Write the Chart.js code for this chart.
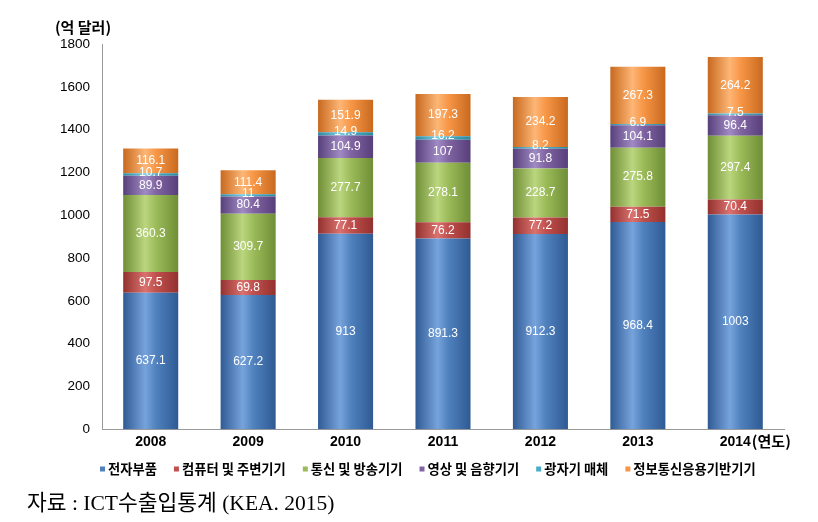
<!DOCTYPE html>
<html>
<head>
<meta charset="utf-8">
<script src="https://cdn.jsdelivr.net/npm/chart.js@4"></script>
<style>
  body { margin: 0; background: #fff; }
  #wrap { position: relative; width: 818px; height: 522px; }
  #note { position: absolute; left: 27px; top: 485px; font-family: "Liberation Serif", "Noto Sans CJK KR", serif; font-size: 21.5px; color: #000; }
</style>
</head>
<body>
<div id="wrap">
  <canvas id="barChart" width="818" height="522"></canvas>
  <div id="note">자료 : ICT수출입통계 (KEA. 2015)</div>
</div>
<script>
const years = ['2008', '2009', '2010', '2011', '2012', '2013', '2014'];
const seriesNames = ['전자부품', '컴퓨터 및 주변기기', '통신 및 방송기기', '영상 및 음향기기', '광자기 매체', '정보통신응용기반기기'];
const parts = [637.1, 627.2, 913, 891.3, 912.3, 968.4, 1003];
const computers = [97.5, 69.8, 77.1, 76.2, 77.2, 71.5, 70.4];
const telecom = [360.3, 309.7, 277.7, 278.1, 228.7, 275.8, 297.4];
const video = [89.9, 80.4, 104.9, 107, 91.8, 104.1, 96.4];
const media = [10.7, 11, 14.9, 16.2, 8.2, 6.9, 7.5];
const appliances = [116.1, 111.4, 151.9, 197.3, 234.2, 267.3, 264.2];
const yTicks = [0, 200, 400, 600, 800, 1000, 1200, 1400, 1600, 1800];

const colors = ['#4F81BD', '#C0504D', '#9BBB59', '#8064A2', '#4BACC6', '#F79646'];
const darks = ['#2F5A94', '#93312E', '#6F8E36', '#573F7A', '#2D889F', '#C8691F'];
const lights = ['#77A3DC', '#DA726F', '#BAD67E', '#A08AC4', '#7ACDE2', '#FDB676'];

const tickFont = { family: '"Liberation Sans", Arial, sans-serif', size: 14, weight: 'bold' };

// cylinder look: horizontal gradient per bar
const cylinder = {
    id: 'cylinder',
    beforeDatasetsDraw(chart) {
        const ctx = chart.ctx;
        chart.data.datasets.forEach(function(ds, di) {
            chart.getDatasetMeta(di).data.forEach(function(bar) {
                const g = ctx.createLinearGradient(bar.x - bar.width / 2, 0, bar.x + bar.width / 2, 0);
                g.addColorStop(0, darks[di]);
                g.addColorStop(0.4, lights[di]);
                g.addColorStop(0.6, colors[di]);
                g.addColorStop(1, darks[di]);
                bar.options = Object.assign({}, bar.options, { backgroundColor: g });
            });
        });
    }
};

const labels = {
    id: 'labels',
    afterDatasetsDraw(chart) {
        const ctx = chart.ctx;
        ctx.save();
        ctx.fillStyle = '#fff';
        ctx.font = '12px "Liberation Sans", Arial, sans-serif';
        ctx.textAlign = 'center';
        ctx.textBaseline = 'middle';
        chart.data.datasets.forEach(function(ds, di) {
            chart.getDatasetMeta(di).data.forEach(function(bar, i) {
                let y = (bar.y + bar.base) / 2;
                if (di === 4) y -= 2;
                ctx.fillText(String(ds.data[i]), bar.x, y);
            });
        });
        // axis captions
        ctx.fillStyle = '#000';
        ctx.font = 'bold 15px "Noto Sans CJK KR", sans-serif';
        ctx.fillText('(억 달러)', 83, 27);
        const xs = chart.scales.x;
        const last = xs.getPixelForTick(years.length - 1);
        ctx.font = 'bold 14px "Liberation Sans", Arial, sans-serif';
        const w = ctx.measureText(years[years.length - 1]).width;
        ctx.font = 'bold 15px "Noto Sans CJK KR", sans-serif';
        ctx.textAlign = 'left';
        ctx.fillText('(연도)', last + w / 2 + 1, xs.top + 12);
        ctx.restore();
    }
};

// legend row under the axis
const legendRow = {
    id: 'legendRow',
    afterDraw(chart) {
        const ctx = chart.ctx;
        ctx.save();
        ctx.font = 'bold 13.3px "Noto Sans CJK KR", sans-serif';
        ctx.textBaseline = 'middle';
        ctx.textAlign = 'left';
        let x = 100;
        const y = 469;
        seriesNames.forEach(function(n, i) {
            ctx.fillStyle = colors[i];
            ctx.fillRect(x, y - 2.5, 5, 5);
            x += 8;
            ctx.fillStyle = '#000';
            ctx.fillText(n, x, y);
            x += ctx.measureText(n).width + 17;
        });
        ctx.restore();
    }
};

const datasets = [parts, computers, telecom, video, media, appliances].map(function(d, i) {
    return {
        label: seriesNames[i],
        data: d,
        backgroundColor: colors[i],
        borderWidth: 0,
        barPercentage: 0.565,
        categoryPercentage: 1.0
    };
});

const bar_config = {
    type: 'bar',
    data: { labels: years, datasets: datasets },
    options: {
        responsive: false,
        animation: false,
        layout: { padding: { top: 44, right: 34, left: 0, bottom: 66 } },
        plugins: {
            tooltip: { enabled: false },
            legend: { display: false }
        },
        scales: {
            x: {
                stacked: true,
                grid: { display: false, drawTicks: false },
                border: { display: true, color: '#999' },
                ticks: { color: '#000', font: tickFont, padding: 5 }
            },
            y: {
                stacked: true,
                min: 0,
                max: 1800,
                afterBuildTicks: function(scale) { scale.ticks = yTicks.map(function(v) { return { value: v }; }); },
                afterFit: function(scale) { scale.width = 102; },
                grid: { display: false },
                border: { display: true, color: '#999' },
                ticks: {
                    color: '#000',
                    font: { family: '"Liberation Sans", Arial, sans-serif', size: 13.5 },
                    padding: 4,
                    callback: function(v) { return String(v); }
                }
            }
        }
    },
    plugins: [cylinder, labels, legendRow]
};

const bar_ctx = document.getElementById('barChart').getContext('2d');
const barChart = new Chart(bar_ctx, bar_config);
</script>
</body>
</html>
